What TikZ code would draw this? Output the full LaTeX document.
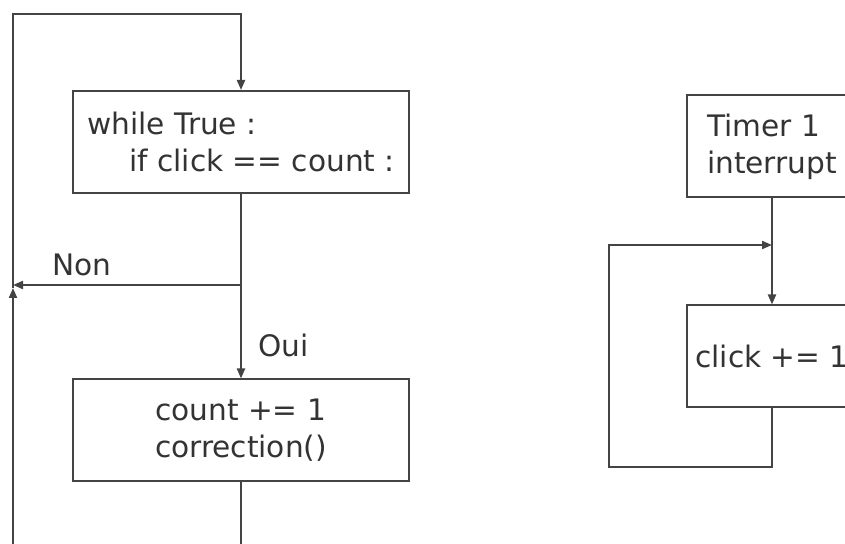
\documentclass[tikz,border=0pt]{standalone}
\usepackage{fontspec}
\setmainfont{DejaVu Sans}
\usetikzlibrary{arrows.meta}
\definecolor{ink}{HTML}{333333}
\definecolor{stroke}{HTML}{444444}
\begin{document}
\begin{tikzpicture}[x=0.5pt,y=-0.5pt,
  font=\fontsize{14.8}{18.5}\selectfont,
  box/.style={draw=stroke, line width=1pt, minimum height=51pt,
    text=ink, align=left, inner ysep=0pt},
  wide/.style={box, minimum width=168pt},
  narrow/.style={box, minimum width=85pt},
  flow/.style={draw=stroke, line width=1pt,
    -{Triangle[length=5pt,width=4pt]}},
  lbl/.style={text=ink, anchor=base west, inner sep=0pt}]
\clip (0,0) rectangle (845,544);

% main loop
\node[wide] (cond) at (241,142)
  {while True :\\\hspace*{21pt}if click == count :};
\node[wide] (incr) at (241,430.5)
  {count += 1\\correction()};

\coordinate (split) at (241,285);
\coordinate (leftbar) at (13,285);
\coordinate (rise) at (13,288);
\coordinate (top) at (13,14);
\coordinate (under) at (241,580);
\coordinate (corner) at (13,580);

\draw[flow] (cond.south) -- (incr.north);
\draw[flow] (split) -- (leftbar);
\draw[flow] (incr.south) -- (under) -- (corner) -- (rise);
\draw[flow] (rise) -- (top) -| (cond.north);

\node[lbl] (non) at (52,276) {Non};
\node[lbl] (oui) at (258,357) {Oui};

% timer interrupt
\node[narrow] (timer) at (772,146.5) {Timer 1\\interrupt};
\node[narrow] (click) at (772,356.5) {click += 1};

\coordinate (merge) at (772,245);
\coordinate (drop) at (772,467);
\coordinate (back) at (609,467);
\coordinate (backtop) at (609,245);

\draw[flow] (timer.south) -- (click.north);
\draw[flow] (click.south) -- (drop) -- (back) -- (backtop) -- (merge);
\end{tikzpicture}
\end{document}
